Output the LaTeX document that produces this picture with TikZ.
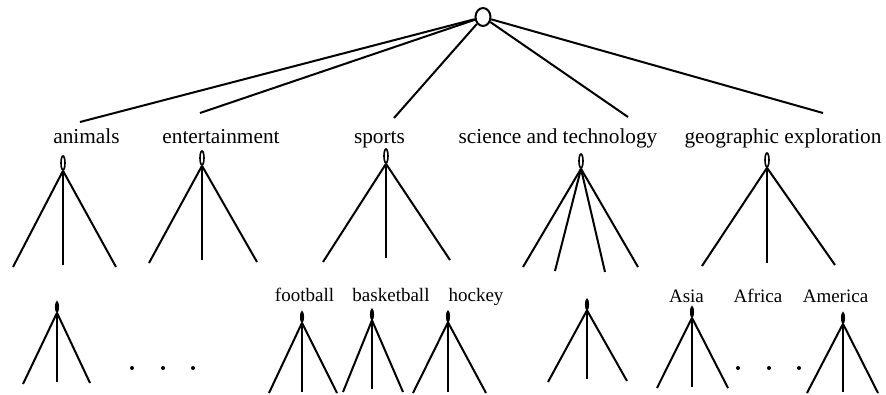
\documentclass[tikz,border=0pt]{standalone}
\usepackage{fontspec}
\setmainfont{Liberation Serif}
\usetikzlibrary{shapes.geometric}
\begin{document}
\begin{tikzpicture}[x=1pt,y=-1pt,
 rootnode/.style={draw, ellipse, minimum width=15pt, minimum height=18pt, inner sep=0pt, line width=2pt},
 loopA/.style={draw, ellipse, minimum width=4pt, minimum height=14pt, inner sep=0pt, line width=1.6pt},
 loopB/.style={draw, ellipse, fill, minimum width=2.5pt, minimum height=10pt, inner sep=0pt, line width=1.6pt},
 catlabel/.style={font=\fontsize{21.3}{24}\selectfont, inner sep=0pt, anchor=base},
 sublabel/.style={font=\fontsize{19}{22}\selectfont, inner sep=0pt, anchor=base},
 edge/.style={line width=2pt},
 dot/.style={circle, fill, inner sep=0pt, minimum size=4pt}]
\useasboundingbox (0,0) rectangle (886,394);

% root
\node[rootnode] (root) at (483,17) {};

% category labels
\node[catlabel] (lanimals) at (86.5,143) {animals};
\node[catlabel] (lent) at (221,143) {entertainment};
\node[catlabel] (lsports) at (379.5,143) {sports};
\node[catlabel] (lsci) at (558,143) {science and technology};
\node[catlabel] (lgeo) at (783,143) {geographic exploration};

% root connectors
\coordinate (r1) at (80,122);
\coordinate (r2) at (200,113);
\coordinate (r3) at (394,118);
\coordinate (r4) at (628,117);
\coordinate (r5) at (823,113);
\foreach \c in {r1,r2,r3,r4,r5} \draw[edge] (root) -- (\c);

% second-level trees
\node[loopA] (ta) at (63,163) {};
\node[loopA] (te) at (202,158) {};
\node[loopA] (ts) at (386,156) {};
\node[loopA] (tc) at (581,161) {};
\node[loopA] (tg) at (767,160) {};

\coordinate (ta1) at (13,267); \coordinate (ta2) at (63,265); \coordinate (ta3) at (116,267);
\coordinate (te1) at (149,263); \coordinate (te2) at (202,260); \coordinate (te3) at (257,262);
\coordinate (ts1) at (323,262); \coordinate (ts2) at (386,258); \coordinate (ts3) at (450,260);
\coordinate (tc1) at (523,267); \coordinate (tc2) at (555,271); \coordinate (tc3) at (605,272); \coordinate (tc4) at (638,267);
\coordinate (tg1) at (702,266); \coordinate (tg2) at (767,263); \coordinate (tg3) at (835,265);

\foreach \t/\n in {ta/3,te/3,ts/3,tc/4,tg/3}
  \foreach \i in {1,...,\n} \draw[edge] (\t.south) -- (\t\i);

% third-level labels
\node[sublabel] (lfoot) at (304.5,301) {football};
\node[sublabel] (lbask) at (391,301) {basketball};
\node[sublabel] (lhock) at (476,301) {hockey};
\node[sublabel] (lasia) at (686.5,302) {Asia};
\node[sublabel] (lafr) at (758,302) {Africa};
\node[sublabel] (lamer) at (835.5,302) {America};

% third-level trees
\node[loopB] (ua) at (57,307) {};
\node[loopB] (uf) at (302,317) {};
\node[loopB] (ub) at (372,314.5) {};
\node[loopB] (uh) at (448,316.5) {};
\node[loopB] (uc) at (587,304.5) {};
\node[loopB] (us) at (692,312) {};
\node[loopB] (um) at (843,318) {};

\coordinate (ua1) at (23,384); \coordinate (ua2) at (57,382); \coordinate (ua3) at (90,383);
\coordinate (uf1) at (269,393); \coordinate (uf2) at (302,392); \coordinate (uf3) at (337,393);
\coordinate (ub1) at (343,392); \coordinate (ub2) at (372,389); \coordinate (ub3) at (403,392);
\coordinate (uh1) at (413,393); \coordinate (uh2) at (448,392); \coordinate (uh3) at (486,393);
\coordinate (uc1) at (548,382); \coordinate (uc2) at (587,379); \coordinate (uc3) at (627,381);
\coordinate (us1) at (657,388); \coordinate (us2) at (692,387); \coordinate (us3) at (728,388);
\coordinate (um1) at (807,393); \coordinate (um2) at (843,392); \coordinate (um3) at (878,393);

\foreach \t in {ua,uf,ub,uh,uc,us,um}
  \foreach \i in {1,2,3} \draw[edge] (\t.south) -- (\t\i);

% ellipsis dots
\node[dot] (d1) at (132,368) {};
\node[dot] (d2) at (163,368) {};
\node[dot] (d3) at (193,368) {};
\node[dot] (d4) at (738,368) {};
\node[dot] (d5) at (769,368) {};
\node[dot] (d6) at (799,368) {};
\end{tikzpicture}
\end{document}
